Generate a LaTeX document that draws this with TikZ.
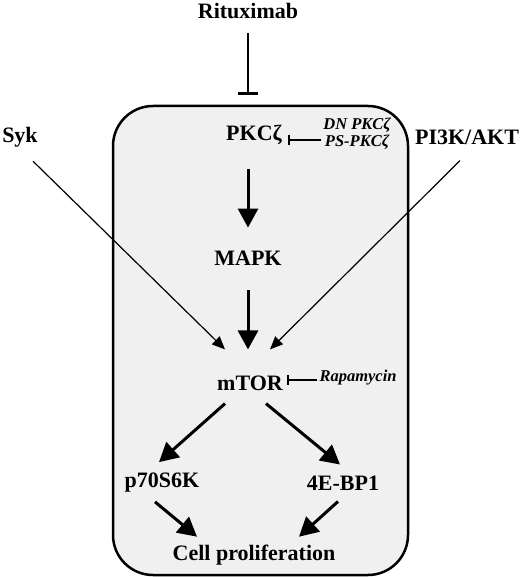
\documentclass[tikz,border=0pt]{standalone}
\usepackage{fontspec}
\setmainfont{Liberation Serif}
\usetikzlibrary{arrows.meta,calc}
\begin{document}
\begin{tikzpicture}[x=1pt,y=-1pt,
  lbl/.style={font=\fontsize{22}{25}\selectfont\bfseries, inner sep=0pt},
  ilbl/.style={font=\fontsize{16.5}{16}\selectfont\bfseries\itshape, inner sep=0pt, align=center},
  bigarrow/.style={line width=3pt, -{Triangle[length=19pt,width=20pt]}},
  thinarrow/.style={line width=1.2pt, -{Triangle[length=13pt,width=11pt]}},
  inhib/.style={line width=2.8pt, -{Bar[width=20pt,line width=3pt]}},
  sinhib/.style={line width=1.4pt, -{Bar[width=10pt,line width=1.6pt]}},
  cellbox/.style={draw, line width=2.5pt, rounded corners=40pt, fill=black!6}]
\useasboundingbox (0,0) rectangle (520,577);
\draw[cellbox] (113,106) rectangle (408,575);
\node[lbl] (rit) at (248,11) {Rituximab};
\node[lbl] (pkc) at (254,135) {PKCζ};
\node[ilbl] (dn) at (357,134) {DN PKCζ\\[1pt]PS-PKCζ};
\node[lbl] (mapk) at (248,258) {MAPK};
\node[lbl] (syk) at (20,137) {Syk};
\node[lbl] (pi3k) at (467,137) {PI3K/AKT};
\node[lbl] (mtor) at (250,383) {mTOR};
\node[ilbl] (rapa) at (358,378) {Rapamycin};
\node[lbl] (p70) at (162,483) {p70S6K};
\node[lbl] (ebp) at (343,483) {4E-BP1};
\node[lbl] (cell) at (254,555) {Cell proliferation};
\coordinate (ritend) at (248,95);
\draw[inhib] ($(rit.south)+(0,14)$) -- (ritend);
\draw[sinhib] ($(dn.west)+(-2,6)$) -- ($(pkc.east)+(6,5)$);
\draw[sinhib] ($(rapa.west)+(-2,2)$) -- ($(mtor.east)+(4,-3)$);
\draw[bigarrow] ($(pkc.south)+(-6,24)$) -- ($(mapk.north)+(0,-23)$);
\draw[bigarrow] ($(mapk.south)+(0,25)$) -- ($(mtor.north)+(-2,-26)$);
\draw[thinarrow] ($(syk.south)+(13,14)$) -- ($(mtor.north)+(-25,-26)$);
\draw[thinarrow] ($(pi3k.south)+(-7,16)$) -- ($(mtor.north)+(20,-26)$);
\draw[bigarrow] ($(mtor.south)+(-25,13)$) -- ($(p70.north)+(-3,-11)$);
\draw[bigarrow] ($(mtor.south)+(16,13)$) -- ($(ebp.north)+(-3,-11)$);
\draw[bigarrow] ($(p70.south)+(-7,9)$) -- ($(cell.north)+(-57,-8)$);
\draw[bigarrow] ($(ebp.south)+(-5,11)$) -- ($(cell.north)+(45,-8)$);
\end{tikzpicture}
\end{document}
